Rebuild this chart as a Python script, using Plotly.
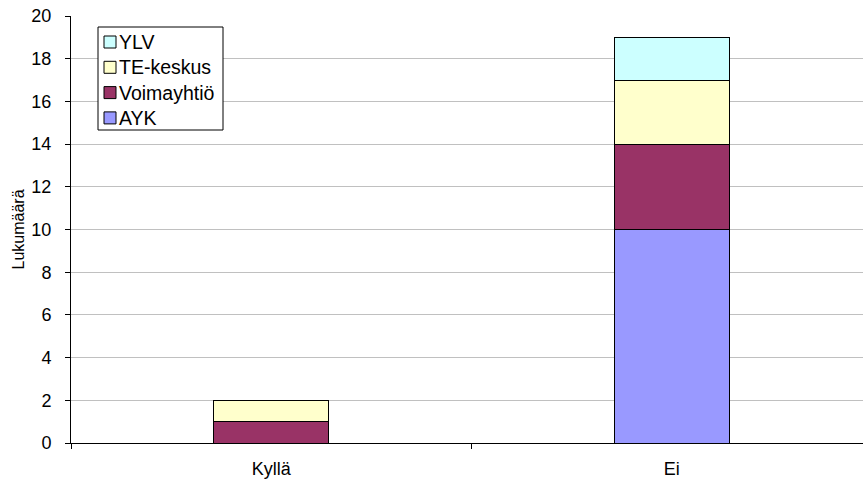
import plotly.graph_objects as go

categories = ["Kyllä", "Ei"]
series_names = ["AYK", "Voimayhtiö", "TE-keskus", "YLV"]
ayk = [0, 10]
voimayhtio = [1, 4]
te_keskus = [1, 3]
ylv = [0, 2]

colors = ["#9999FF", "#993366", "#FFFFCC", "#CCFFFF"]

W, H = 863, 482
ML, MR, MT, MB = 71, 0, 16, 39
PW, PH = W - ML - MR, H - MT - MB


def px_x(x):
    return (x - ML) / PW


def px_y(y):
    return (H - MB - y) / PH


fig = go.Figure()
for name, vals, col in zip(series_names, [ayk, voimayhtio, te_keskus, ylv], colors):
    fig.add_trace(go.Bar(
        x=categories, y=vals, name=name, width=0.287, showlegend=False,
        marker=dict(color=col, line=dict(color="#000000", width=1)),
    ))

# Boxed legend, top entry = top of the stack
shapes = [dict(type="rect", xref="paper", yref="paper",
               x0=px_x(98), x1=px_x(223), y0=px_y(130), y1=px_y(27),
               line=dict(color="#000000", width=1), fillcolor="white", layer="above")]
annotations = []
row0, row_step = 42, 25.3
for i, (name, col) in enumerate(zip(series_names[::-1], colors[::-1])):
    cy = row0 + i * row_step
    shapes.append(dict(type="rect", xref="paper", yref="paper",
                       x0=px_x(104), x1=px_x(116), y0=px_y(cy + 6), y1=px_y(cy - 6),
                       line=dict(color="#000000", width=1), fillcolor=col, layer="above"))
    annotations.append(dict(xref="paper", yref="paper", x=px_x(117), y=px_y(cy),
                            xanchor="left", yanchor="middle", text=name, showarrow=False,
                            font=dict(size=19.5, color="#000000")))

fig.update_layout(
    barmode="stack",
    width=W, height=H,
    margin=dict(l=ML, r=MR, t=MT, b=MB),
    paper_bgcolor="white", plot_bgcolor="white",
    font=dict(family="Liberation Sans, Arial, sans-serif", size=18, color="#000000"),
    shapes=shapes,
    annotations=annotations,
    showlegend=False,
)
fig.update_xaxes(
    range=[-0.5, 1.4775],
    showline=True, linecolor="#000000", linewidth=1,
    ticks="outside", tickson="boundaries", ticklen=5, tickcolor="#000000",
    ticklabelstandoff=9,
    showgrid=False,
)
fig.update_yaxes(
    range=[0, 20], dtick=2,
    showline=True, linecolor="#000000", linewidth=1,
    ticks="outside", ticklen=5, tickcolor="#000000",
    ticklabelstandoff=10,
    showgrid=True, gridcolor="#C0C0C0", gridwidth=1,
    zeroline=False,
    title=dict(text="Lukumäärä", standoff=2, font=dict(size=16)),
)

fig.write_html("out.html")
